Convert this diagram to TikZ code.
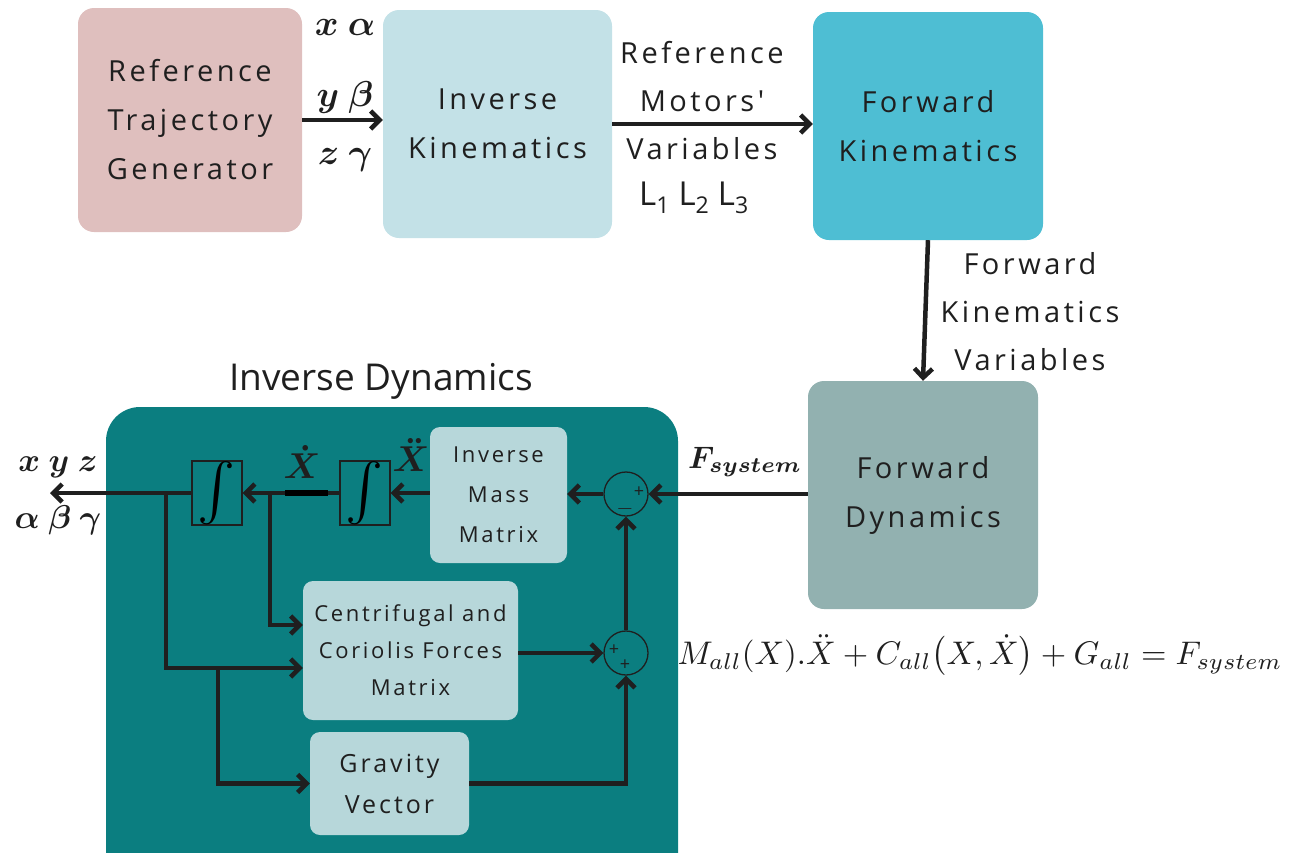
\documentclass[tikz,border=0pt]{standalone}
\usepackage[no-math]{fontspec}
\usepackage{amsmath,bm,graphicx}
\setmainfont{Open Sans}
\newfontfamily\spacedfont[LetterSpace=12]{Open Sans}
\usetikzlibrary{arrows.meta}
\definecolor{pinkc}{HTML}{DFBFBE}
\definecolor{ikc}{HTML}{C3E1E7}
\definecolor{fkc}{HTML}{4EBED3}
\definecolor{fdc}{HTML}{92B1B0}
\definecolor{bigc}{HTML}{0B7E80}
\definecolor{innerc}{HTML}{B7D7DA}
\definecolor{inkc}{HTML}{1F1F1F}
\newcommand{\mth}[2]{\scalebox{#1}{$#2$}}
\begin{document}
\begin{tikzpicture}[x=1pt,y=-1pt,
  bigblk/.style={rounded corners=16pt, inner sep=0pt, align=center, text=inkc,
     font={\spacedfont\fontsize{29}{49}\selectfont}},
  inblk/.style={rounded corners=10pt, fill=innerc, inner sep=0pt, align=center, text=inkc},
  intbox/.style={draw=inkc, line width=1.3pt, minimum width=50pt, minimum height=64pt, inner sep=0pt},
  sumc/.style={circle, draw=inkc, line width=1.3pt, minimum size=44pt, inner sep=0pt},
  conn/.style={draw=inkc, line width=4.5pt, -{Straight Barb[length=9pt,width=18pt]}},
  mlab/.style={text=inkc, inner sep=0pt},
  lab/.style={text=inkc, inner sep=0pt, align=center, font={\spacedfont\fontsize{29}{48}\selectfont}}
]
\useasboundingbox (0,0) rectangle (1302,852);

% top row
\node[bigblk, fill=pinkc, minimum width=224pt, minimum height=224pt] (rtg) at (190,120) {Reference\\Trajectory\\Generator};
\node[bigblk, fill=ikc, minimum width=229pt, minimum height=228pt] (ik) at (497.5,124) {Inverse\\Kinematics};
\node[bigblk, fill=fkc, minimum width=230pt, minimum height=228pt] (fk) at (928,126) {Forward\\Kinematics};
\node[bigblk, fill=fdc, minimum width=230pt, minimum height=228pt] (fd) at (923,495) {Forward\\Dynamics};

% inverse dynamics container
\fill[bigc, rounded corners=34pt] (106,407) rectangle (678,900);
\node[mlab, font={\fontsize{37}{40}\selectfont}] (idt) at (381,381) {Inverse Dynamics};

\node[inblk, minimum width=137pt, minimum height=136pt, font={\spacedfont\fontsize{22}{40}\selectfont}] (imm) at (498.5,495) {Inverse\\Mass\\Matrix};
\node[inblk, minimum width=215pt, minimum height=139pt, font={\spacedfont\fontsize{22}{37}\selectfont}] (cen) at (410.5,650.5) {Centrifugal and\\Coriolis Forces\\Matrix};
\node[inblk, minimum width=159pt, minimum height=103pt, font={\spacedfont\fontsize{25}{41}\selectfont}] (grav) at (389.5,783.5) {Gravity\\Vector};

\node[intbox] (int1) at (217,493) {\resizebox{!}{46pt}{$\int$}};
\node[intbox] (int2) at (365,493) {\resizebox{!}{46pt}{$\int$}};

\node[sumc] (s1) at (626,494) {};
\node[sumc] (s2) at (626,653) {};
\node[mlab, font={\fontsize{18}{18}\selectfont}] (s1p) at (639,492) {+};
\node[mlab] (s1m) at (625,509) {\mth{2.2}{-}};
\node[mlab, font={\fontsize{18}{18}\selectfont}] (s2p) at (614,650) {+};
\node[mlab, font={\fontsize{18}{18}\selectfont}] (s2q) at (625,665) {+};

\coordinate (outc) at (50,493);
\coordinate (j1) at (166,493);
\coordinate (j2) at (270,493);
\coordinate (j3) at (218,668);

% connectors
\draw[conn] (rtg.east) -- (rtg.east -| ik.west);
\draw[conn] (ik.east) -- (ik.east -| fk.west);
\draw[conn] (fk.south) -- (fd.north);
\draw[conn] (fd.west |- s1) -- (s1.east);
\draw[conn] (s1.west) -- (s1.west -| imm.east);
\draw[conn] (imm.west |- int2) -- (int2.east);
\draw[conn] (int2.west) -- (int1.east);
\draw[draw=black, line width=5.5pt] (285,493) -- (328,493);
\draw[conn] (int1.west) -- (outc);
\draw[conn] (j2) |- ([yshift=25.5pt]cen.west);
\draw[conn] (j1) |- ([yshift=-17.5pt]cen.west);
\draw[conn] (j3) |- (grav.west);
\draw[conn] (cen.east |- s2) -- (s2.west);
\draw[conn] (grav.east) -| (s2.south);
\draw[conn] (s2.north) -- (s1.south);

% labels
\node[mlab] (lxa) at (345,27) {\mth{3.6}{\bm{x\ \alpha}}};
\node[mlab] (lyb) at (345,97) {\mth{3.6}{\bm{y\ \beta}}};
\node[mlab] (lzg) at (345,160) {\mth{3.6}{\bm{z\ \gamma}}};
\node[lab] (rmv) at (702,101) {Reference\\Motors'\\Variables};
\node[mlab, font={\fontsize{33}{33}\selectfont}] (lls) at (694,198) {L\textsubscript{1} L\textsubscript{2} L\textsubscript{3}};
\node[lab] (fkv) at (1030,312) {Forward\\Kinematics\\Variables};
\node[mlab] (fsys) at (745,462) {\mth{3.1}{\bm{F_{system}}}};
\node[mlab] (xd) at (302,462) {\mth{3.6}{\bm{\dot{X}}}};
\node[mlab] (xdd) at (411,455) {\mth{3.6}{\bm{\ddot{X}}}};
\node[mlab] (oxyz) at (58,467) {\mth{3.3}{\bm{x\ y\ z}}};
\node[mlab] (oabg) at (58,520) {\mth{3.3}{\bm{\alpha\ \beta\ \gamma}}};
\node[mlab] (eq) at (980,655) {\resizebox{605pt}{!}{$M_{all}(X).\ddot{X}+C_{all}\bigl(X,\dot{X}\bigr)+G_{all}=F_{system}$}};
\end{tikzpicture}
\end{document}
